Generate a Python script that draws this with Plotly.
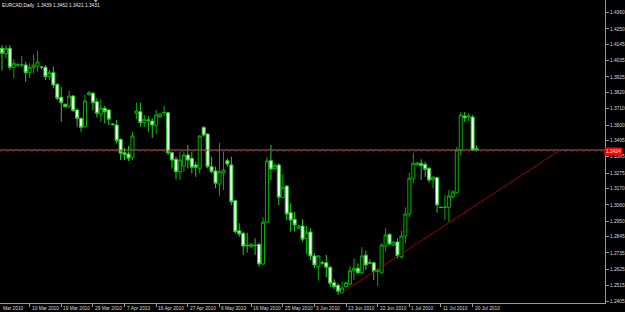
import plotly.graph_objects as go

# ---- data ----
bar_index = list(range(1, 122))
opens = [1.4119,1.4081,1.4119,1.3991,1.4004,1.4006,1.4006,1.3954,1.3988,1.3999,
         1.3993,1.3991,1.3927,1.3954,1.3876,1.3788,1.3740,1.3729,1.3796,1.3702,
         1.3645,1.3589,1.3805,1.3815,1.3758,1.3675,1.3713,1.3702,1.3607,1.3600,
         1.3503,1.3413,1.3404,1.3382,1.3679,1.3690,1.3616,1.3634,1.3627,1.3595,
         1.3656,1.3683,1.3683,1.3413,1.3368,1.3284,1.3323,1.3397,1.3375,1.3330,
         1.3307,1.3585,1.3539,1.3318,1.3289,1.3201,1.3277,1.3359,1.3330,1.3088,
         1.2885,1.2867,1.2786,1.2777,1.2786,1.2793,1.2660,1.2942,1.3359,1.3304,
         1.3330,1.3111,1.3187,1.3007,1.2962,1.2903,1.2917,1.2834,1.2876,1.2714,
         1.2641,1.2668,1.2668,1.2637,1.2533,1.2516,1.2466,1.2506,1.2524,1.2614,
         1.2631,1.2601,1.2719,1.2668,1.2668,1.2609,1.2601,1.2781,1.2861,1.2788,
         1.2809,1.2709,1.2849,1.2998,1.3240,1.3332,1.3341,1.3334,1.3307,1.3228,
         1.3244,1.3043,1.3042,1.3043,1.3115,1.3142,1.3426,1.3661,1.3654,1.3654,
         1.3439]
highs = [1.4141,1.4141,1.4141,1.4045,1.4020,1.4067,1.4028,1.4018,1.4074,1.4103,
         1.3999,1.4006,1.3972,1.3995,1.3882,1.3859,1.3746,1.3830,1.3803,1.3713,
         1.3652,1.3803,1.3830,1.3825,1.3781,1.3774,1.3729,1.3706,1.3614,1.3634,
         1.3510,1.3445,1.3458,1.3555,1.3751,1.3751,1.3668,1.3661,1.3645,1.3702,
         1.3679,1.3729,1.3688,1.3420,1.3386,1.3420,1.3420,1.3465,1.3420,1.3352,
         1.3532,1.3589,1.3544,1.3386,1.3318,1.3480,1.3420,1.3375,1.3386,1.3093,
         1.2935,1.2878,1.2871,1.2802,1.2834,1.2800,1.2976,1.3386,1.3465,1.3341,
         1.3341,1.3269,1.3194,1.3070,1.3014,1.2924,1.2962,1.2917,1.2901,1.2732,
         1.2721,1.2680,1.2721,1.2646,1.2556,1.2529,1.2540,1.2540,1.2646,1.2698,
         1.2664,1.2773,1.2750,1.2691,1.2675,1.2631,1.2800,1.2901,1.2867,1.2811,
         1.2834,1.2885,1.3043,1.3277,1.3413,1.3350,1.3368,1.3352,1.3314,1.3255,
         1.3250,1.3049,1.3127,1.3160,1.3160,1.3453,1.3688,1.3688,1.3681,1.3668,
         1.3462]
lows = [1.3968,1.4051,1.3972,1.3916,1.3993,1.3991,1.3893,1.3916,1.3950,1.3961,
        1.3977,1.3905,1.3905,1.3848,1.3769,1.3622,1.3719,1.3713,1.3690,1.3589,
        1.3555,1.3585,1.3796,1.3702,1.3652,1.3622,1.3612,1.3600,1.3597,1.3476,
        1.3363,1.3363,1.3357,1.3363,1.3639,1.3589,1.3589,1.3555,1.3514,1.3539,
        1.3652,1.3661,1.3397,1.3307,1.3233,1.3228,1.3284,1.3307,1.3273,1.3250,
        1.3273,1.3521,1.3307,1.3273,1.3172,1.3120,1.3160,1.3318,1.3059,1.2867,
        1.2844,1.2721,1.2736,1.2771,1.2721,1.2641,1.2653,1.2935,1.3228,1.3296,
        1.3059,1.3104,1.2957,1.2878,1.2878,1.2897,1.2811,1.2727,1.2687,1.2631,
        1.2547,1.2656,1.2570,1.2506,1.2489,1.2450,1.2457,1.2502,1.2518,1.2551,
        1.2592,1.2592,1.2619,1.2660,1.2551,1.2511,1.2597,1.2743,1.2788,1.2781,
        1.2698,1.2698,1.2800,1.2976,1.3206,1.3323,1.3228,1.3250,1.3210,1.3172,
        1.3007,1.3039,1.2957,1.2946,1.3104,1.3138,1.3397,1.3620,1.3627,1.3424,
        1.3421]
closes = [1.4085,1.4119,1.3991,1.4018,1.4008,1.4008,1.3954,1.3991,1.4006,1.4026,
          1.3989,1.3927,1.3954,1.3871,1.3781,1.3751,1.3724,1.3796,1.3697,1.3645,
          1.3585,1.3763,1.3819,1.3751,1.3679,1.3713,1.3690,1.3639,1.3604,1.3494,
          1.3409,1.3399,1.3375,1.3526,1.3695,1.3616,1.3639,1.3632,1.3600,1.3668,
          1.3675,1.3685,1.3413,1.3363,1.3284,1.3363,1.3397,1.3363,1.3314,1.3314,
          1.3526,1.3532,1.3318,1.3284,1.3206,1.3284,1.3296,1.3336,1.3081,1.2878,
          1.2863,1.2781,1.2784,1.2793,1.2785,1.2660,1.2942,1.3357,1.3302,1.3327,
          1.3111,1.3179,1.2998,1.2957,1.2924,1.2917,1.2827,1.2871,1.2714,1.2653,
          1.2714,1.2666,1.2637,1.2529,1.2506,1.2475,1.2497,1.2533,1.2614,1.2631,
          1.2601,1.2714,1.2653,1.2666,1.2608,1.2619,1.2788,1.2856,1.2795,1.2809,
          1.2714,1.2849,1.2998,1.3240,1.3341,1.3343,1.3325,1.3300,1.3228,1.3246,
          1.3059,1.3042,1.3045,1.3120,1.3147,1.3431,1.3668,1.3648,1.3661,1.3431,
          1.3431]

date_tick_index = [0, 8, 16, 24, 32, 40, 48, 56, 64, 72, 80, 88, 96, 104, 112, 120]
date_tick_text = ["1 Mar 2010", "10 Mar 2010", "19 Mar 2010", "29 Mar 2010", "7 Apr 2010",
                  "16 Apr 2010", "27 Apr 2010", "6 May 2010", "16 May 2010", "25 May 2010",
                  "3 Jun 2010", "13 Jun 2010", "22 Jun 2010", "1 Jul 2010", "11 Jul 2010",
                  "20 Jul 2010"]
first_label_visible = "Mar 2010"   # the "1 " of the first date is cut off at the left edge
price_tick_text = ["1.4360", "1.4250", "1.4145", "1.4035", "1.3925", "1.3820", "1.3710",
                   "1.3600", "1.3495", "1.3385", "1.3275", "1.3170", "1.3060", "1.2950",
                   "1.2845", "1.2735", "1.2625", "1.2515", "1.2405"]

bid_price = 1.3431
hline_price = 1.3424
hline_label = "1.3424"
trend_x = [86, 142.1]
trend_y = [1.2450, 1.3431]
title_text = "EURCAD,Daily  1.3439 1.3462 1.3421 1.3431"
shift_marker_x = 24.7   # chart-shift marker position along the bar axis

x_range = [0.506, 153.47]
y_range = [1.23959, 1.44459]

FONT = "Liberation Sans"
FS = 4.8
AXIS_GRAY = "#9a9a9a"
TXT = "#dcdcdc"

fig = go.Figure()
fig.add_trace(go.Candlestick(
    x=bar_index, open=opens, high=highs, low=lows, close=closes,
    increasing=dict(line=dict(color="#00b000", width=1), fillcolor="#000000"),
    decreasing=dict(line=dict(color="#20d020", width=1), fillcolor="#ffffff"),
    whiskerwidth=0, showlegend=False, hoverinfo="skip",
))

# chart-shift marker at the top edge
fig.add_trace(go.Scatter(
    x=[shift_marker_x], y=[y_range[1]], mode="markers",
    marker=dict(symbol="triangle-down", size=5, color="#b0b0b0", line=dict(width=0)),
    showlegend=False, hoverinfo="skip", cliponaxis=False,
))

# bid line and red horizontal line
fig.add_shape(type="line", xref="paper", x0=0, x1=1, yref="y", y0=bid_price, y1=bid_price,
              line=dict(color="#6f7f8f", width=1), layer="above")
fig.add_shape(type="line", xref="paper", x0=0, x1=1, yref="y", y0=hline_price, y1=hline_price,
              line=dict(color="#c00000", width=1, dash="dot"), layer="above")
# trend line
fig.add_shape(type="line", xref="x", yref="y", x0=trend_x[0], y0=trend_y[0],
              x1=trend_x[1], y1=trend_y[1], line=dict(color="#9a0000", width=1), layer="above")

annotations = []
for idx, txt in zip(date_tick_index, date_tick_text):
    if idx < x_range[0]:
        annotations.append(dict(x=x_range[0], xref="x", y=0, yref="paper", yanchor="top",
                                xanchor="left", text=first_label_visible, showarrow=False,
                                xshift=1, yshift=-1, font=dict(family=FONT, size=FS, color=TXT)))
        continue
    annotations.append(dict(x=idx, xref="x", y=0, yref="paper", yanchor="top", xanchor="left",
                            text=txt, showarrow=False, xshift=0, yshift=-1,
                            font=dict(family=FONT, size=FS, color=TXT)))
annotations.append(dict(x=0, xref="paper", y=1, yref="paper", xanchor="left", yanchor="top",
                        text=title_text, showarrow=False, yshift=-1,
                        font=dict(family=FONT, size=FS, color="#ececec")))
annotations.append(dict(x=1, xref="paper", y=hline_price, yref="y", xanchor="left", yanchor="middle",
                        text=hline_label, showarrow=False, bgcolor="#ff0000", borderpad=1,
                        xshift=-1, font=dict(family=FONT, size=FS, color="#ffffff")))

fig.update_layout(
    width=625, height=312,
    margin=dict(l=0, r=20, t=0, b=9),
    paper_bgcolor="#000000", plot_bgcolor="#000000",
    boxgap=0.1, boxgroupgap=0.15,
    annotations=annotations,
    xaxis=dict(range=x_range, showgrid=False, zeroline=False, rangeslider=dict(visible=False),
               showline=True, linecolor=AXIS_GRAY, linewidth=1, mirror=True,
               tickmode="array", tickvals=date_tick_index, ticks="outside", ticklen=3,
               tickcolor=AXIS_GRAY, showticklabels=False, fixedrange=True),
    yaxis=dict(range=y_range, side="right", showgrid=False, zeroline=False,
               showline=True, linecolor=AXIS_GRAY, linewidth=1,
               tickmode="array", tickvals=[float(t) for t in price_tick_text],
               ticktext=price_tick_text, ticks="outside", ticklen=3, tickcolor=AXIS_GRAY,
               tickfont=dict(family=FONT, size=FS, color=TXT), fixedrange=True),
)

fig.write_html("out.html")
